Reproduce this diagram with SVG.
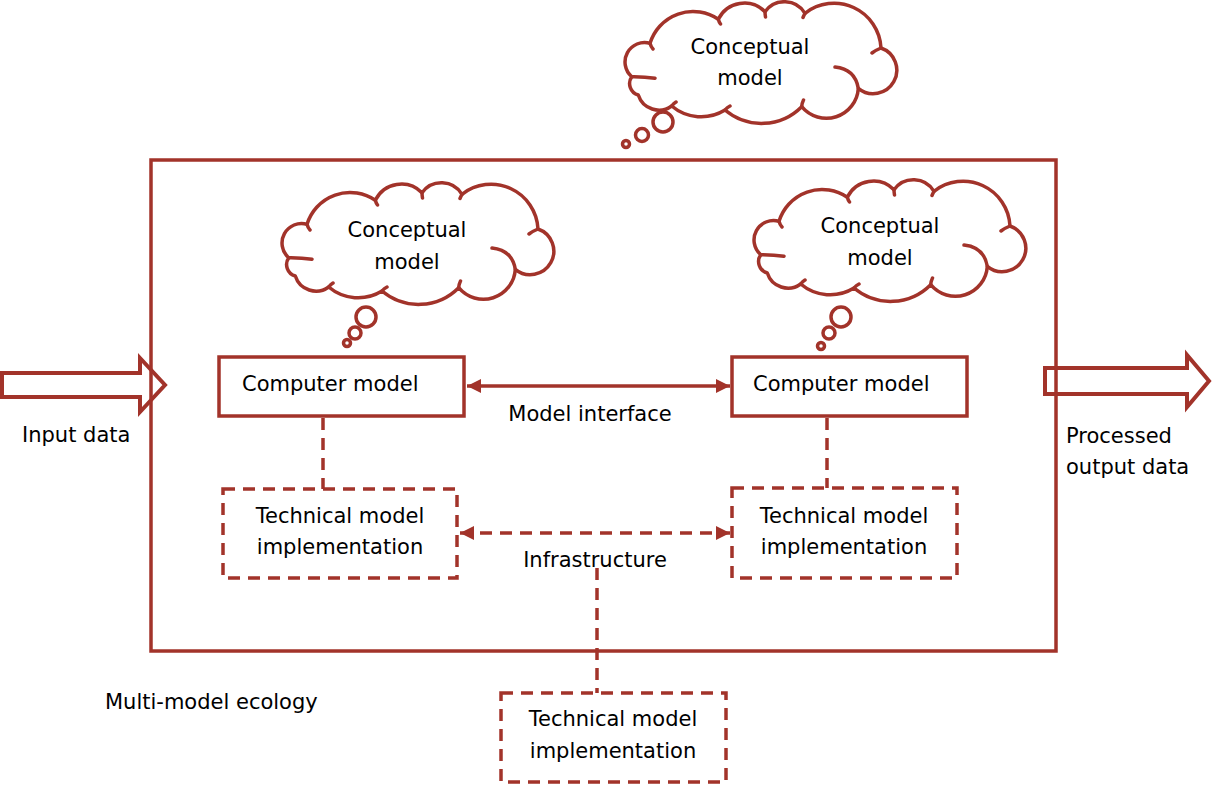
<svg xmlns="http://www.w3.org/2000/svg" xmlns:xlink="http://www.w3.org/1999/xlink" width="1212" height="787" viewBox="0 0 1212 787">
<style>
.ln{stroke:#a2332a;stroke-width:3.5;fill:none}
.box{stroke:#a2332a;stroke-width:3.5;fill:#fff}
.dash{stroke:#a2332a;stroke-width:3.5;fill:#fff;stroke-dasharray:12 8}
.dl{stroke:#a2332a;stroke-width:3.5;fill:none;stroke-dasharray:12 8}
.blk{stroke:#a2332a;stroke-width:4;fill:#fff;stroke-linejoin:miter}
.cl{stroke:#a2332a;stroke-width:3.5;fill:#fff;stroke-linecap:round;stroke-linejoin:round}
.ci{stroke:#a2332a;stroke-width:3.5;fill:none;stroke-linecap:round}
text{font-family:"DejaVu Sans",Verdana,sans-serif;font-size:21px;fill:#000}
.m{text-anchor:middle}
</style>
<defs>
<marker id="ah" viewBox="0 0 10 10" refX="10" refY="5" markerWidth="4" markerHeight="4" orient="auto-start-reverse" markerUnits="strokeWidth">
<path d="M0 0 L10 5 L0 10 Z" fill="#a2332a"/>
</marker>
<g id="cloud">
<path class="cl" d="M5.7 73.7 A19.5 19.5 0 0 1 24 40.3 A45 45 0 0 1 92.3 16.3 A29 29 0 0 1 139 8.7 A24 24 0 0 1 179 10.3 A47 47 0 0 1 255 45 A23.5 23.5 0 1 1 232.3 85.3 A32 32 0 0 1 175.7 103.7 A56.6 56.6 0 0 1 99 107 A45.5 45.5 0 0 1 45.7 103 A21.7 21.7 0 0 1 12.3 92 A12 12 0 0 1 5.7 73.7 Z"/>
<path class="ci" d="M5.7 73.7 Q18 73.5 29 75.3 M24 40.3 Q25 44 27 46 M92.3 16.3 Q93 19 94.5 21 M139 8.7 Q139 11 139.5 14 M179 10.3 Q178 12 177 14.5 M255 45 Q250 47 246 50 M209 64 Q229 66 232.3 85.3 M175.7 103.7 Q176 100 177.5 97 M99 107 Q101 104.5 104 103 M45.7 103 Q47.5 100.5 50 99"/>
</g>
</defs>

<g id="input-arrow"><polygon class="blk" points="2,373 140,373 140,358 165,385 140,412 140,397 2,397"/></g>
<g id="output-arrow"><polygon class="blk" points="1045,368 1187,368 1187,355 1209,381 1187,407 1187,394 1045,394"/></g>

<g id="ecology"><rect class="ln" x="151" y="160" width="905" height="491"/></g>

<g id="connectors">
<line class="ln" x1="467" y1="386" x2="730" y2="386" marker-start="url(#ah)" marker-end="url(#ah)"/>
<line class="dl" x1="460" y1="533" x2="730" y2="533" marker-start="url(#ah)" marker-end="url(#ah)"/>
<line class="dl" x1="323" y1="418" x2="323" y2="489"/>
<line class="dl" x1="827" y1="418" x2="827" y2="488"/>
<line class="dl" x1="597" y1="568" x2="597" y2="693"/>
</g>

<g id="cloud-top">
<use xlink:href="#cloud" transform="translate(626,3)"/>
<circle class="cl" cx="663" cy="122" r="10"/>
<circle class="cl" cx="642" cy="135" r="6.5"/>
<circle class="cl" cx="626" cy="144" r="3.5"/>
<text class="m" x="750" y="54">Conceptual</text>
<text class="m" x="750" y="85">model</text>
</g>

<g id="cloud-left">
<use xlink:href="#cloud" transform="translate(283,184)"/>
<circle class="cl" cx="366" cy="317" r="10"/>
<circle class="cl" cx="355" cy="333" r="6"/>
<circle class="cl" cx="347" cy="343" r="3.5"/>
<text class="m" x="407" y="237">Conceptual</text>
<text class="m" x="407" y="269">model</text>
</g>

<g id="cloud-right">
<use xlink:href="#cloud" transform="translate(755,181)"/>
<circle class="cl" cx="841" cy="317" r="10"/>
<circle class="cl" cx="829" cy="333" r="6"/>
<circle class="cl" cx="821" cy="346" r="3.5"/>
<text class="m" x="880" y="233">Conceptual</text>
<text class="m" x="880" y="265">model</text>
</g>

<g id="computer-left"><rect class="box" x="219" y="357" width="245" height="59"/><text x="242" y="391">Computer model</text></g>
<g id="computer-right"><rect class="box" x="732" y="357" width="235" height="59"/><text x="753" y="391">Computer model</text></g>

<g id="tech-left"><rect class="dash" x="223" y="489" width="234" height="89"/><text class="m" x="340" y="523">Technical model</text><text class="m" x="340" y="554">implementation</text></g>
<g id="tech-right"><rect class="dash" x="732" y="488" width="225" height="90"/><text class="m" x="844" y="523">Technical model</text><text class="m" x="844" y="554">implementation</text></g>
<g id="tech-bottom"><rect class="dash" x="501" y="693" width="225" height="89"/><text class="m" x="613" y="726">Technical model</text><text class="m" x="613" y="758">implementation</text></g>

<g id="labels">
<text class="m" x="590" y="421">Model interface</text>
<text class="m" x="595" y="567">Infrastructure</text>
<text x="22" y="442">Input data</text>
<text x="1066" y="443">Processed</text>
<text x="1066" y="474">output data</text>
<text x="105" y="709">Multi-model ecology</text>
</g>
</svg>
